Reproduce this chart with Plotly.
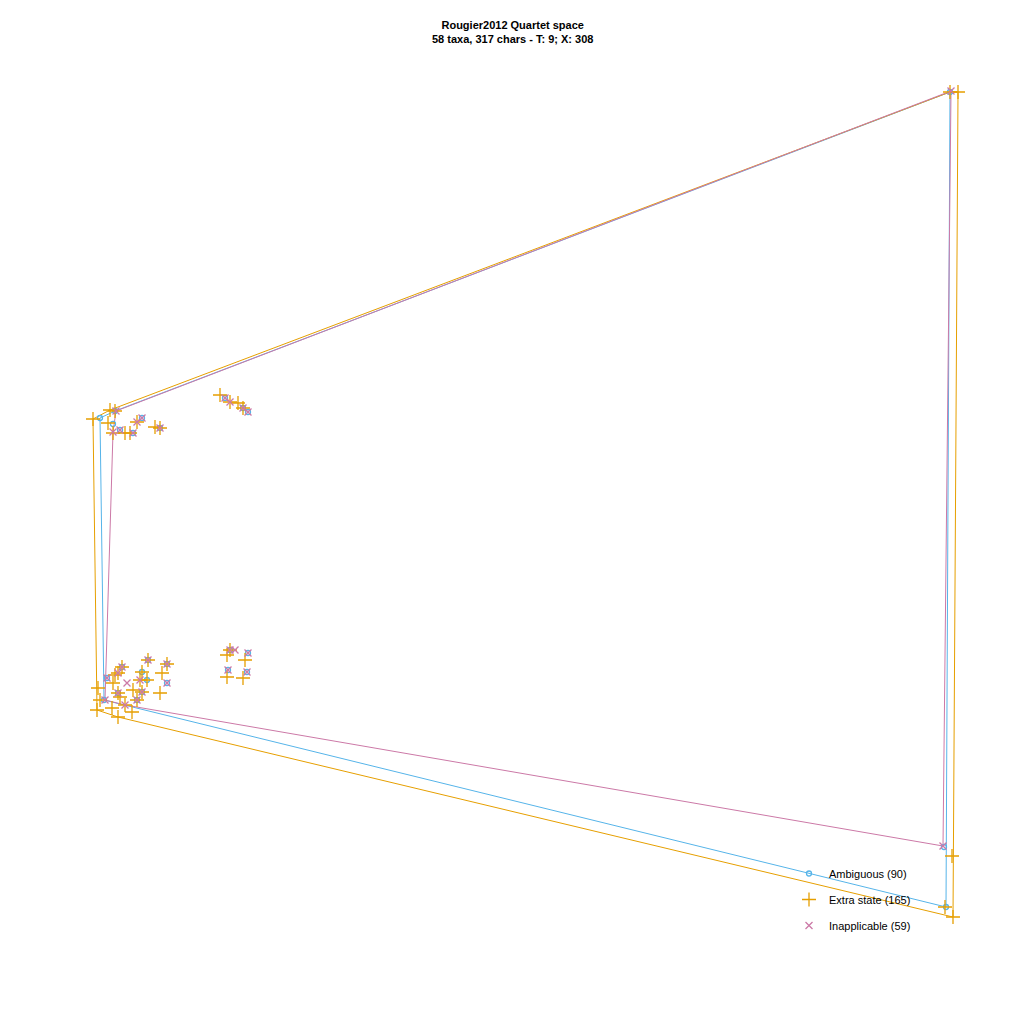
import plotly.graph_objects as go

# Ordination coordinates (y grows downward)
amb_x = [950, 946, 944, 100, 115, 120, 142, 133, 160, 113, 225, 243, 248,
         230, 248, 228, 247, 148, 167, 142, 122, 107, 147, 167, 142, 118, 104, 137]
amb_y = [92, 907, 847, 418, 411, 430, 418, 433, 428, 424, 398, 408, 412,
         650, 653, 670, 672, 660, 664, 672, 667, 678, 680, 683, 692, 693, 700, 700]

ext_x = [93, 108, 110, 115, 113, 125, 130, 137, 155, 160, 220, 230, 238, 243,
         230, 227, 245, 227, 243, 148, 167, 162, 142, 122, 118, 115, 140, 147,
         113, 160, 142, 133, 118, 98, 100, 125, 112, 137, 97, 118, 132, 120,
         950, 958, 952, 953, 945]
ext_y = [419, 423, 410, 411, 433, 433, 433, 422, 427, 428, 395, 402, 403, 408,
         650, 655, 660, 677, 678, 660, 664, 673, 672, 667, 673, 675, 680, 680,
         683, 693, 692, 690, 693, 688, 700, 705, 708, 700, 710, 717, 712, 697,
         92, 92, 856, 917, 907]

ina_x = [951, 943, 116, 113, 120, 137, 142, 133, 160, 225, 230, 243, 248,
         230, 235, 248, 228, 247, 148, 167, 122, 118, 107, 140, 127, 167, 142,
         118, 105, 125, 137]
ina_y = [91, 846, 411, 432, 430, 422, 418, 433, 428, 398, 402, 408, 412,
         650, 650, 653, 670, 672, 660, 664, 667, 673, 678, 680, 683, 683, 692,
         693, 700, 705, 700]

groups = ["Ambiguous (90)", "Extra state (165)", "Inapplicable (59)"]
colors = ["#56B4E9", "#E69F00", "#CC79A7"]
symbols = ["circle-open", "cross-thin-open", "x-thin-open"]
sizes = [5, 10, 7]


def hull(xs, ys):
    pts = sorted(set(zip(xs, ys)))

    def cross(o, a, b):
        return (a[0] - o[0]) * (b[1] - o[1]) - (a[1] - o[1]) * (b[0] - o[0])

    lower, upper = [], []
    for p in pts:
        while len(lower) >= 2 and cross(lower[-2], lower[-1], p) <= 0:
            lower.pop()
        lower.append(p)
    for p in reversed(pts):
        while len(upper) >= 2 and cross(upper[-2], upper[-1], p) <= 0:
            upper.pop()
        upper.append(p)
    h = lower[:-1] + upper[:-1]
    h.append(h[0])
    return [p[0] for p in h], [p[1] for p in h]


data = [(amb_x, amb_y), (ext_x, ext_y), (ina_x, ina_y)]
fig = go.Figure()
for (xs, ys), c in zip(data, colors):
    hx, hy = hull(xs, ys)
    fig.add_trace(go.Scatter(x=hx, y=hy, mode="lines", line=dict(color=c, width=1),
                             showlegend=False, hoverinfo="skip"))
for i, ((xs, ys), c) in enumerate(zip(data, colors)):
    fig.add_trace(go.Scatter(x=xs, y=ys, mode="markers", name=groups[i],
                             legendgroup=groups[i],
                             marker=dict(symbol=symbols[i], size=sizes[i],
                                         color=c, line=dict(color=c, width=1.3))))

fig.update_layout(
    width=1024, height=1024,
    margin=dict(l=0, r=0, t=0, b=0),
    paper_bgcolor="white", plot_bgcolor="white",
    font=dict(family="Liberation Sans, Arial, sans-serif", size=11, color="black"),
    xaxis=dict(range=[0, 1024], visible=False, fixedrange=True),
    yaxis=dict(range=[1024, 0], visible=False, fixedrange=True),
    legend=dict(x=789 / 1024, y=1 - 859 / 1024, xanchor="left", yanchor="top",
                bgcolor="rgba(0,0,0,0)", tracegroupgap=7,
                font=dict(size=11, color="black")),
    annotations=[dict(text="<b>Rougier2012 Quartet space</b><br><b>58 taxa, 317 chars - T: 9; X: 308</b>",
                      x=0.5, y=1 - 17 / 1024, xref="paper", yref="paper",
                      xanchor="center", yanchor="top", showarrow=False,
                      font=dict(size=11, color="black"))],
)
fig.write_html("out.html")
